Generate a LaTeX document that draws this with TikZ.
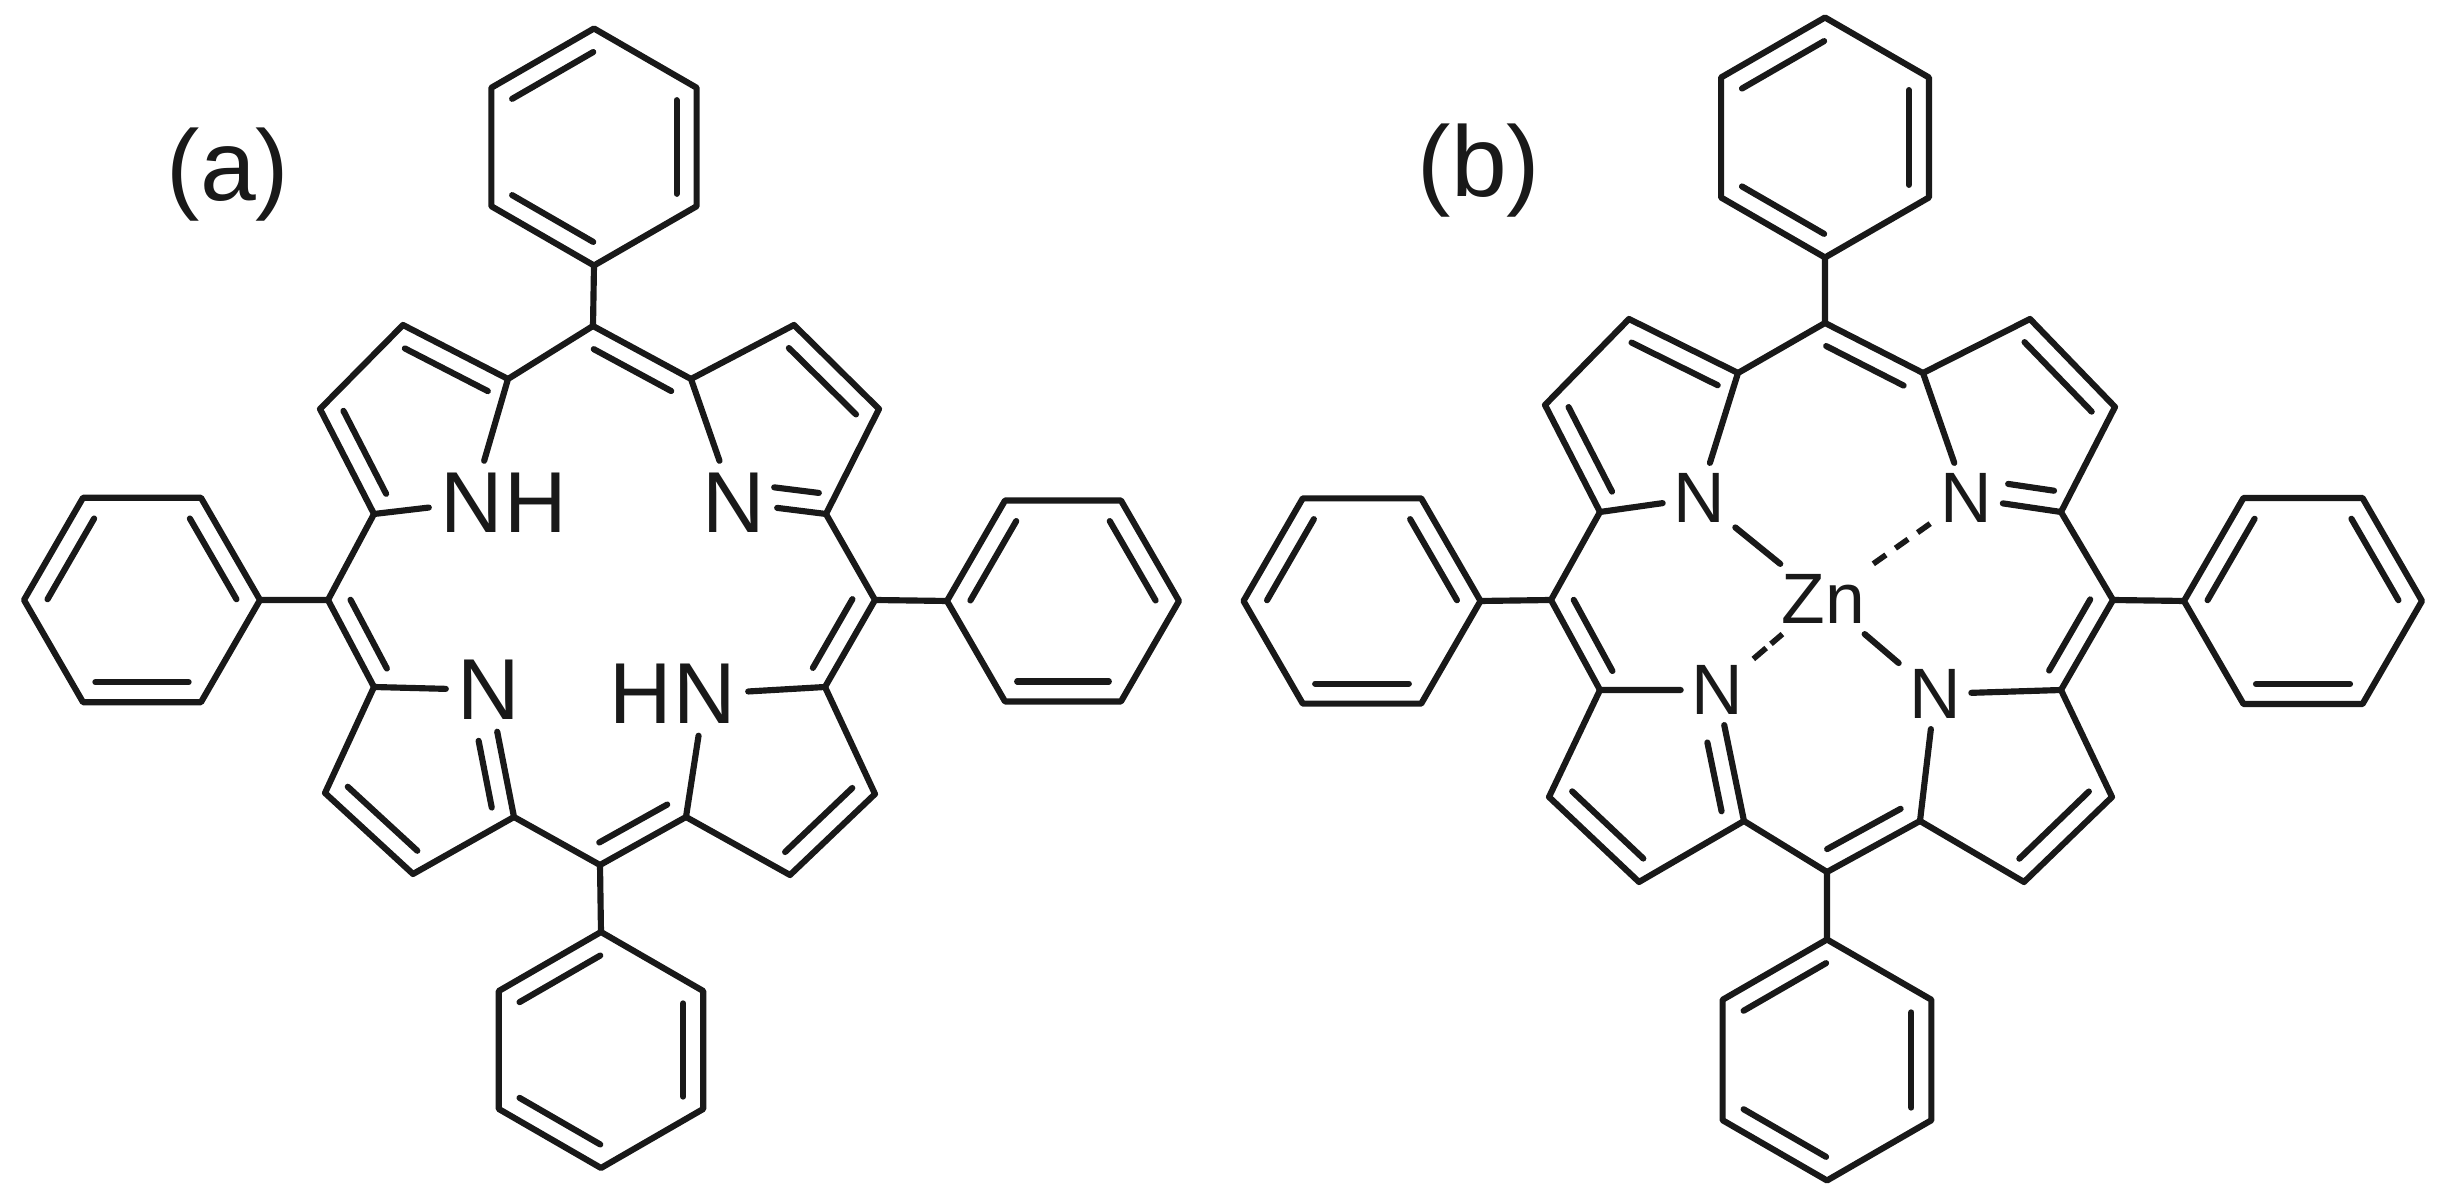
\documentclass[tikz,border=0pt]{standalone}
\usepackage{fontspec}
\setmainfont{Liberation Sans}
\usetikzlibrary{calc,positioning}
\definecolor{ink}{rgb}{0.1,0.1,0.1}
\tikzset{
	bond/.style={color=ink, line width=1.75pt, line join=round, line cap=round},
	coord/.style={color=ink, line width=1.6pt, dash pattern=on 4.4pt off 3.3pt},
	atoma/.style={text=ink, inner sep=3.2pt, font=\fontsize{24.6}{26}\selectfont},
	atomb/.style={text=ink, inner sep=2.8pt, font=\fontsize{20.3}{22}\selectfont},
	panel/.style={text=ink, inner sep=0pt, font=\fontsize{28.5}{30}\selectfont}
}
\newcommand{\inbond}[3][.105]{\draw[bond] ($(#2)!#1!(#3)!0.2cm!90:(#3)$) -- ($(#2)!.895!(#3)!0.2cm!90:(#3)$);}
\newcommand{\inbondr}[3][.105]{\draw[bond] ($(#2)!#1!(#3)!0.2cm!-90:(#3)$) -- ($(#2)!.895!(#3)!0.2cm!-90:(#3)$);}
\newcommand{\phenyl}[4]{
	\foreach \k in {0,...,5} \coordinate (#1\k) at ($(#2)+(#4+60*\k:#3)$);
	\draw[bond] (#10) -- (#11) -- (#12) -- (#13) -- (#14) -- (#15) -- cycle;
	\inbond{#12}{#11} \inbond{#14}{#13} \inbond{#10}{#15}
}
\newcommand{\macrocycle}[1]{
	\draw[bond] (#1Nul) -- (#1ula) -- (#1mT) -- (#1ura) -- (#1Nur);
	\draw[bond] (#1ula) -- (#1ulb) -- (#1ulc) -- (#1uld) -- (#1Nul);
	\draw[bond] (#1uld) -- (#1mL) -- (#1lla) -- (#1Nll);
	\draw[bond] (#1lla) -- (#1llb) -- (#1llc) -- (#1lld) -- (#1Nll);
	\draw[bond] (#1lld) -- (#1mB) -- (#1lra) -- (#1Nlr);
	\draw[bond] (#1lra) -- (#1lrb) -- (#1lrc) -- (#1lrd) -- (#1Nlr);
	\draw[bond] (#1lrd) -- (#1mR) -- (#1urd) -- (#1Nur);
	\draw[bond] (#1urd) -- (#1urc) -- (#1urb) -- (#1ura);
	\inbond{#1ula}{#1ulb} \inbond{#1ulc}{#1uld}
	\inbond{#1ura}{#1mT} \inbond{#1urc}{#1urb}
	\inbond[.41]{#1Nur}{#1urd}
	\inbond{#1mL}{#1lla} \inbond{#1llb}{#1llc}
	\inbondr[.37]{#1Nll}{#1lld}
	\inbond{#1mB}{#1lra} \inbond{#1lrb}{#1lrc}
	\inbond{#1lrd}{#1mR}
	\draw[bond] (#1mT) -- (#1top3) (#1mL) -- (#1left0) (#1mR) -- (#1right3) (#1mB) -- (#1bot0);
}
\begin{document}
\begin{tikzpicture}[x=0.01cm,y=-0.01cm]
	\useasboundingbox (0,0) rectangle (2444,1201);
	% porphyrin with NH
	\node[panel] (labela) at (228,175) {(a)};
	\node[atoma] (aNul) at (472,502.5) {N};
	\node[atoma, right=-6.4pt of aNul] (aHul) {H};
	\node[atoma] (aNur) at (734,502.5) {N};
	\node[atoma] (aNll) at (489,690) {N};
	\node[atoma] (aNlr) at (705,694) {N};
	\node[atoma, left=-6.4pt of aNlr] (aHlr) {H};
	\coordinate (amT) at (593,326);
	\coordinate (amL) at (328,600);
	\coordinate (amB) at (600,865);
	\coordinate (amR) at (875,600);
	\coordinate (aula) at (508,379);
	\coordinate (aulb) at (403,325);
	\coordinate (aulc) at (320,409);
	\coordinate (auld) at (374,514);
	\coordinate (aura) at (691,379);
	\coordinate (aurb) at (794,325);
	\coordinate (aurc) at (879,409);
	\coordinate (aurd) at (826,514);
	\coordinate (alla) at (374,687);
	\coordinate (allb) at (325,793);
	\coordinate (allc) at (413,874);
	\coordinate (alld) at (514,817);
	\coordinate (alra) at (686,817);
	\coordinate (alrb) at (790,875);
	\coordinate (alrc) at (875,794);
	\coordinate (alrd) at (825,687);
	\coordinate (atopc) at (594,147);
	\coordinate (aleftc) at (142,600);
	\coordinate (arightc) at (1063,601);
	\coordinate (abotc) at (601,1050);
	\phenyl{atop}{atopc}{118.5}{-90}
	\phenyl{aleft}{aleftc}{118}{0}
	\phenyl{aright}{arightc}{116}{0}
	\phenyl{abot}{abotc}{118}{-90}
	\macrocycle{a}
	% zinc complex
	\node[panel] (labelb) at (1479,171) {(b)};
	\node[atomb] (bNul) at (1699,498) {N};
	\node[atomb] (bNur) at (1966.5,498) {N};
	\node[atomb] (bNll) at (1717,690) {N};
	\node[atomb] (bNlr) at (1935,694) {N};
	\node[atomb] (bZn) at (1823.5,599) {Zn};
	\coordinate (bmT) at (1825,323);
	\coordinate (bmL) at (1551,600);
	\coordinate (bmB) at (1827,872);
	\coordinate (bmR) at (2113,600);
	\coordinate (bula) at (1738,373);
	\coordinate (bulb) at (1629,319);
	\coordinate (bulc) at (1545,405);
	\coordinate (buld) at (1600,512);
	\coordinate (bura) at (1923,373);
	\coordinate (burb) at (2030,319);
	\coordinate (burc) at (2115,407);
	\coordinate (burd) at (2061,512);
	\coordinate (blla) at (1600,690);
	\coordinate (bllb) at (1549,797);
	\coordinate (bllc) at (1639,882);
	\coordinate (blld) at (1744,821);
	\coordinate (blra) at (1920,821);
	\coordinate (blrb) at (2024,882);
	\coordinate (blrc) at (2112,797);
	\coordinate (blrd) at (2061,690);
	\coordinate (btopc) at (1825,137.5);
	\coordinate (bleftc) at (1362,601);
	\coordinate (brightc) at (2303,601);
	\coordinate (bbotc) at (1827,1060);
	\phenyl{btop}{btopc}{120}{-90}
	\phenyl{bleft}{bleftc}{118.5}{0}
	\phenyl{bright}{brightc}{119}{0}
	\phenyl{bbot}{bbotc}{120.5}{-90}
	\macrocycle{b}
	\draw[bond] (bNul) -- (bZn) (bNlr) -- (bZn);
	\draw[coord] (bNur) -- (bZn);
	\draw[coord, dash pattern=on 4.8pt off 1.8pt] (bNll) -- (bZn);
\end{tikzpicture}
\end{document}
